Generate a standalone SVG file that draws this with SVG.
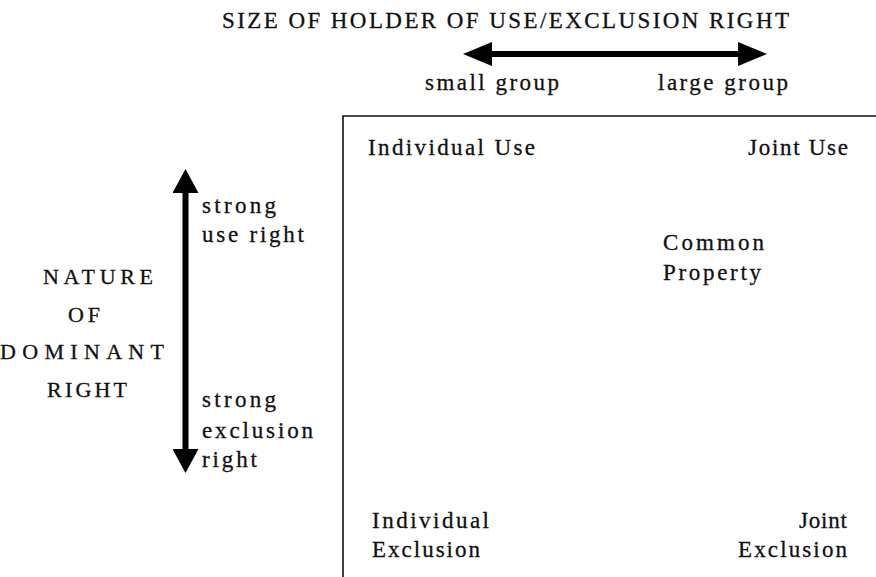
<svg xmlns="http://www.w3.org/2000/svg" width="876" height="577" viewBox="0 0 876 577">
  <style>
    text { font-family: "Liberation Serif", "DejaVu Serif", serif; font-size: 23px; fill: #111; stroke: #111; stroke-width: 0.3; }
    .caps { font-size: 22px; }
    .axis { stroke: #000; stroke-width: 6; fill: none; }
    .frame { stroke: #111; stroke-width: 1.6; fill: none; }
  </style>
  <defs>
    <marker id="head-h" markerUnits="userSpaceOnUse" markerWidth="29" markerHeight="24" viewBox="0 0 29 24" refX="0" refY="12" orient="auto-start-reverse">
      <path d="M0,0 L29,12 L0,24 z" fill="#000"/>
    </marker>
    <marker id="head-v" markerUnits="userSpaceOnUse" markerWidth="24" markerHeight="26" viewBox="0 0 24 26" refX="0" refY="13" orient="auto-start-reverse">
      <path d="M0,0 L24,13 L0,26 z" fill="#000"/>
    </marker>
  </defs>

  <!-- axis titles -->
  <g id="title-size">
    <text x="222" y="28" textLength="567" lengthAdjust="spacing">SIZE OF HOLDER OF USE/EXCLUSION RIGHT</text>
  </g>
  <g id="title-nature" class="caps">
    <text class="caps" x="43" y="284" textLength="110" lengthAdjust="spacing">NATURE</text>
    <text class="caps" x="68" y="322" textLength="32" lengthAdjust="spacing">OF</text>
    <text class="caps" x="0" y="359" textLength="164" lengthAdjust="spacing">DOMINANT</text>
    <text class="caps" x="47" y="397" textLength="80" lengthAdjust="spacing">RIGHT</text>
  </g>

  <!-- double-headed axis arrows -->
  <g id="connectors">
    <line class="axis" x1="492" y1="54" x2="738" y2="54" marker-start="url(#head-h)" marker-end="url(#head-h)"/>
    <line class="axis" x1="185.5" y1="193" x2="185.5" y2="449" marker-start="url(#head-v)" marker-end="url(#head-v)"/>
  </g>

  <!-- axis end labels -->
  <g id="label-small">
    <text x="425" y="90" textLength="134" lengthAdjust="spacing">small group</text>
  </g>
  <g id="label-large">
    <text x="658" y="90" textLength="130" lengthAdjust="spacing">large group</text>
  </g>
  <g id="label-strong-use">
    <text x="202" y="213" textLength="74" lengthAdjust="spacing">strong</text>
    <text x="202" y="242" textLength="102" lengthAdjust="spacing">use right</text>
  </g>
  <g id="label-strong-exclusion">
    <text x="202" y="407" textLength="74" lengthAdjust="spacing">strong</text>
    <text x="202" y="438" textLength="111" lengthAdjust="spacing">exclusion</text>
    <text x="202" y="467" textLength="55" lengthAdjust="spacing">right</text>
  </g>

  <!-- quadrant frame -->
  <path class="frame" d="M343,577 V116 H876"/>

  <!-- quadrants -->
  <g id="individual-use">
    <text x="368" y="155" textLength="167" lengthAdjust="spacing">Individual Use</text>
  </g>
  <g id="joint-use">
    <text x="748" y="155" textLength="100" lengthAdjust="spacing">Joint Use</text>
  </g>
  <g id="common-property">
    <text x="663" y="250" textLength="101" lengthAdjust="spacing">Common</text>
    <text x="663" y="280" textLength="98" lengthAdjust="spacing">Property</text>
  </g>
  <g id="individual-exclusion">
    <text x="372" y="528" textLength="117" lengthAdjust="spacing">Individual</text>
    <text x="372" y="557" textLength="108" lengthAdjust="spacing">Exclusion</text>
  </g>
  <g id="joint-exclusion">
    <text x="799" y="528" textLength="48" lengthAdjust="spacing">Joint</text>
    <text x="738" y="557" textLength="109" lengthAdjust="spacing">Exclusion</text>
  </g>
</svg>
